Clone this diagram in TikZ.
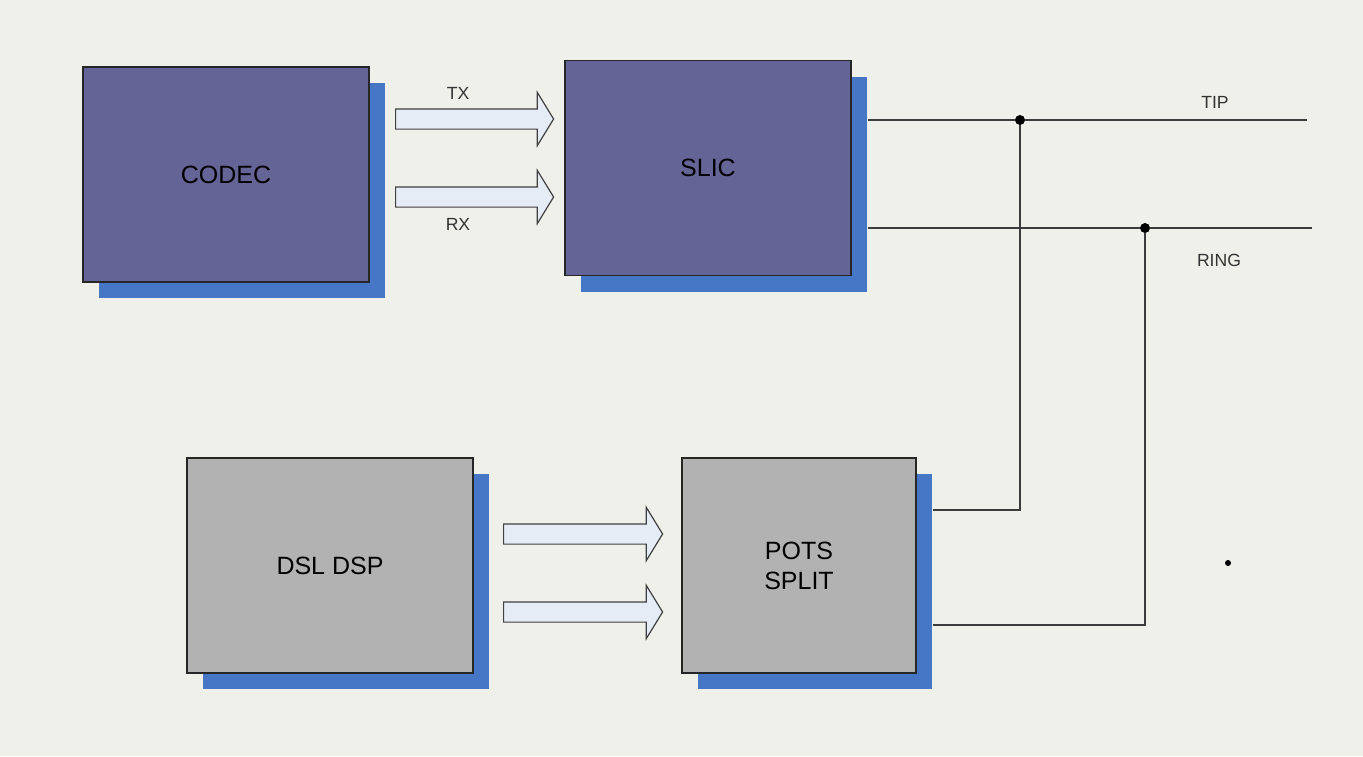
\documentclass[tikz,border=0pt]{standalone}
\usepackage{fontspec}
\setmainfont{Liberation Sans}
\usetikzlibrary{shapes.arrows,shadows}

\definecolor{bgcol}{HTML}{F0F0EA}
\definecolor{boxpurple}{HTML}{646496}
\definecolor{boxgrey}{HTML}{B2B2B2}
\definecolor{shadowblue}{HTML}{4676C6}
\definecolor{arrowfill}{HTML}{E6ECF6}
\definecolor{wire}{HTML}{3C3C3C}

\tikzset{
  box/.style={draw=black!85, line width=0.6pt, rectangle, minimum width=143pt, minimum height=107.5pt,
    drop shadow={shadow xshift=8pt, shadow yshift=-8pt, fill=shadowblue, opacity=1},
    font=\fontsize{12.5}{15}\selectfont, align=center},
  blockarrow/.style={single arrow, draw=black!75, fill=arrowfill, line width=0.6pt,
    inner xsep=0pt, inner ysep=4.75pt, minimum height=79pt, single arrow head extend=8.25pt,
    single arrow tip angle=117, anchor=tail},
  lbl/.style={font=\fontsize{8.8}{10}\selectfont, text=black!80},
  dot/.style={circle, fill=black, inner sep=0pt, minimum size=5pt}
}

\begin{document}
\begin{tikzpicture}[x=0.5pt, y=-0.5pt]
  \useasboundingbox (0,0) rectangle (1363,756);
  \fill[bgcol] (0,0) rectangle (1363,756);

  % boxes
  \node[box, fill=boxpurple] (C) at (226,174.5) {CODEC};
  \node[box, fill=boxpurple] (S) at (708,168) {SLIC};
  \node[box, fill=boxgrey] (D) at (330,565.5) {DSL DSP};
  \node[box, fill=boxgrey, minimum width=117pt] (P) at (799,565.5) {POTS\\SPLIT};

  % block arrows
  \node[blockarrow] (T) at (395,119) {};
  \node[blockarrow] (R) at (395,197) {};
  \node[blockarrow, minimum height=79.5pt] (D1) at (503,534) {};
  \node[blockarrow, minimum height=79.5pt] (D2) at (503,612) {};
  \node[lbl] (tx) at (458,93) {TX};
  \node[lbl] (rx) at (458,224) {RX};

  % tip and ring
  \node[dot] (J1) at (1020,120) {};
  \node[dot] (J2) at (1145,228) {};
  \coordinate (tipend) at (1307,120);
  \coordinate (ringend) at (1312,228);
  \coordinate (p1) at (1020,510);
  \coordinate (p2) at (1145,625);
  \draw[wire, line width=1pt] ([xshift=8pt]S.east |- J1) -- (J1) -- (tipend);
  \draw[wire, line width=1pt] ([xshift=8pt]S.east |- J2) -- (J2) -- (ringend);
  \draw[wire, line width=1pt] (J1) -- (p1) -- ([xshift=8pt]P.east |- p1);
  \draw[wire, line width=1pt] (J2) -- (p2) -- ([xshift=8pt]P.east |- p2);
  \node[lbl] (tip) at (1215,102) {TIP};
  \node[lbl] (ring) at (1219,260) {RING};

  \node[dot, minimum size=3pt] (x) at (1228,563) {};
\end{tikzpicture}
\end{document}
